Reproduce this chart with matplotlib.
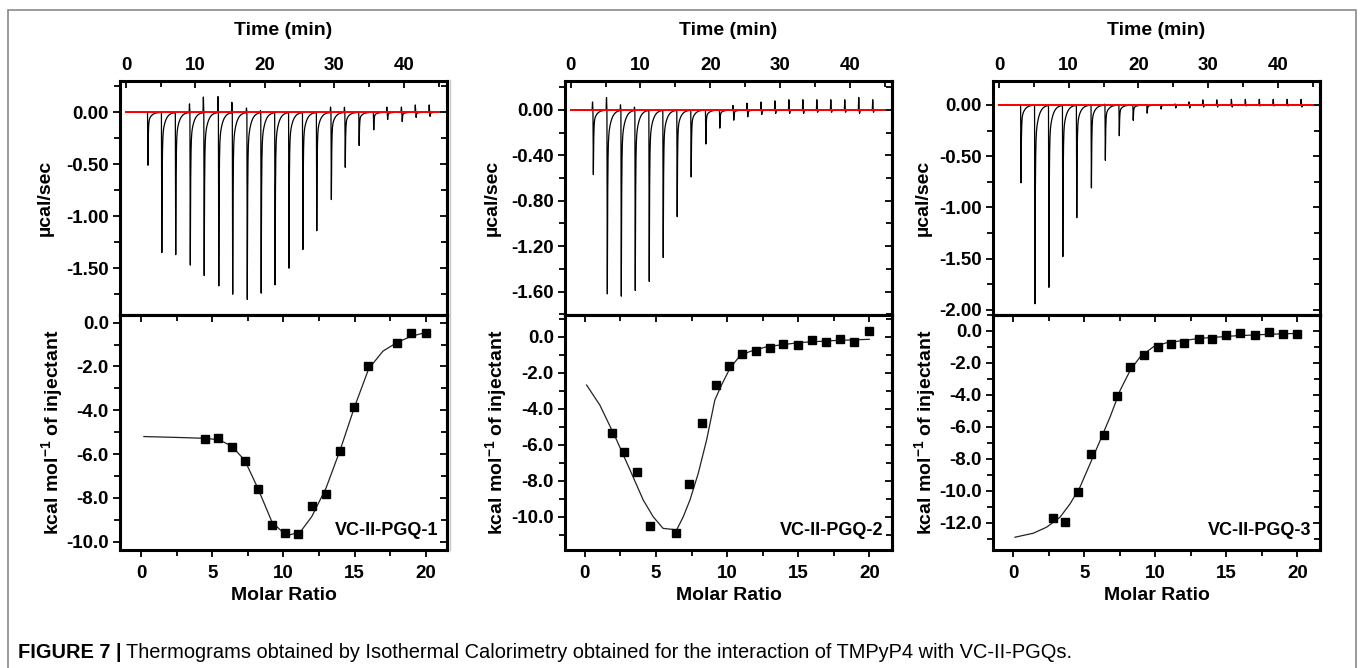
import numpy as np
import matplotlib
matplotlib.use('Agg')
import matplotlib.pyplot as plt
from matplotlib.ticker import MultipleLocator, FormatStrFormatter
from matplotlib.patches import Rectangle
from matplotlib.lines import Line2D

plt.rcParams['font.family'] = ['Liberation Sans', 'DejaVu Sans']
plt.rcParams['font.weight'] = 'bold'
plt.rcParams['axes.unicode_minus'] = False
plt.rcParams['mathtext.fontset'] = 'custom'
plt.rcParams['mathtext.bf'] = 'Liberation Sans:bold'
plt.rcParams['mathtext.rm'] = 'Liberation Sans:bold'
plt.rcParams['mathtext.default'] = 'bf'

# ---------------- data ----------------
# raw thermograms: injection time (min), peak minimum and small positive overshoot (ucal/sec)
inj_t1 = [3.1, 5.1, 7.1, 9.2, 11.2, 13.3, 15.3, 17.4, 19.4, 21.4, 23.4, 25.4, 27.4,
          29.5, 31.5, 33.5, 35.6, 37.6, 39.7, 41.7, 43.7]
peak1 = [-0.51, -1.35, -1.37, -1.47, -1.57, -1.67, -1.75, -1.80, -1.74, -1.66, -1.50,
         -1.32, -1.14, -0.84, -0.53, -0.32, -0.17, -0.07, -0.09, -0.05, -0.04]
over1 = [0.0, 0.0, 0.0, 0.08, 0.15, 0.15, 0.10, 0.04, 0.02, 0.01, 0.0, 0.0, 0.0,
         0.05, 0.05, 0.0, 0.0, 0.05, 0.05, 0.07, 0.07]

inj_t2 = [3.2, 5.2, 7.2, 9.2, 11.2, 13.2, 15.2, 17.2, 19.3, 21.3, 23.3, 25.3, 27.3,
          29.3, 31.3, 33.3, 35.3, 37.3, 39.3, 41.3, 43.3]
peak2 = [-0.57, -1.62, -1.64, -1.59, -1.51, -1.30, -0.94, -0.59, -0.30, -0.16, -0.09,
         -0.06, -0.04, -0.03, -0.03, -0.03, -0.02, -0.02, -0.02, -0.03, -0.02]
over2 = [0.07, 0.11, 0.05, 0.03, 0.0, 0.0, 0.0, 0.0, 0.0, 0.0, 0.04, 0.06, 0.07,
         0.08, 0.09, 0.09, 0.09, 0.09, 0.09, 0.11, 0.09]

inj_t3 = [3.1, 5.1, 7.1, 9.1, 11.1, 13.2, 15.2, 17.2, 19.2, 21.2, 23.2, 25.3, 27.3,
          29.3, 31.3, 33.4, 35.4, 37.4, 39.4, 41.4, 43.4]
peak3 = [-0.76, -1.94, -1.78, -1.48, -1.10, -0.81, -0.54, -0.30, -0.15, -0.08, -0.04,
         -0.03, -0.03, -0.02, -0.02, -0.02, -0.01, -0.01, -0.01, -0.01, -0.02]
over3 = [0.0, 0.0, 0.0, 0.0, 0.0, 0.0, 0.01, 0.0, 0.0, 0.0, 0.0, 0.01, 0.03,
         0.05, 0.05, 0.055, 0.055, 0.055, 0.055, 0.055, 0.055]

# integrated heats (kcal/mol of injectant) vs molar ratio
ratio1 = [4.5, 5.43, 6.37, 7.3, 8.2, 9.18, 10.12, 11.05, 12.04, 13.0, 13.98, 14.96,
          15.97, 17.96, 19.0, 20.0]
heat1 = [-5.33, -5.25, -5.68, -6.30, -7.58, -9.24, -9.59, -9.65, -8.39, -7.84, -5.86,
         -3.85, -1.98, -0.91, -0.49, -0.46]
fit_x1 = [0.2, 2.5, 4.5, 5.5, 6.4, 7.3, 8.2, 9.2, 10.0, 10.5, 11.2, 12.0, 13.0, 14.0,
          15.0, 16.0, 17.0, 18.0, 19.0, 20.0]
fit_y1 = [-5.2, -5.24, -5.28, -5.35, -5.65, -6.3, -7.55, -9.1, -9.6, -9.68, -9.55,
          -8.85, -7.55, -5.8, -3.85, -2.1, -1.3, -0.9, -0.62, -0.45]

ratio2 = [1.88, 2.74, 3.68, 4.57, 6.4, 7.32, 8.25, 9.19, 10.13, 11.07, 12.03, 13.01,
          13.95, 14.96, 15.99, 16.95, 17.94, 18.95, 20.0]
heat2 = [-5.37, -6.39, -7.54, -10.5, -10.89, -8.17, -4.80, -2.70, -1.63, -0.96, -0.78,
         -0.61, -0.43, -0.48, -0.19, -0.28, -0.13, -0.31, 0.33]
fit_x2 = [0.12, 1.05, 2.23, 3.17, 4.1, 4.8, 5.5, 6.1, 6.45, 6.92, 7.39, 7.97, 8.56,
          9.14, 9.61, 10.2, 10.9, 11.6, 12.8, 15.1, 17.5, 20.0]
fit_y2 = [-2.69, -3.8, -5.74, -7.4, -9.07, -10.0, -10.65, -10.7, -10.74, -10.0, -9.07,
          -7.6, -5.74, -3.52, -2.69, -1.76, -1.07, -0.83, -0.56, -0.33, -0.22, -0.15]

ratio3 = [2.78, 3.65, 4.54, 5.48, 6.4, 7.29, 8.24, 9.18, 10.16, 11.1, 12.05, 13.06,
          14.0, 14.99, 16.0, 16.99, 18.0, 19.01, 20.0]
heat3 = [-11.69, -11.92, -10.08, -7.67, -6.48, -4.08, -2.28, -1.51, -0.98, -0.82, -0.73,
         -0.52, -0.50, -0.25, -0.10, -0.25, -0.06, -0.21, -0.21]
fit_x3 = [0.12, 1.41, 2.35, 3.29, 4.0, 4.7, 5.41, 6.12, 6.82, 7.53, 8.24, 8.94, 9.88,
          10.82, 13.18, 15.5, 17.9, 20.0]
fit_y3 = [-12.9, -12.65, -12.27, -11.65, -10.81, -9.76, -8.3, -6.84, -5.37, -3.7, -2.45,
          -1.61, -0.98, -0.73, -0.46, -0.31, -0.21, -0.15]

names = ['VC-II-PGQ-1', 'VC-II-PGQ-2', 'VC-II-PGQ-3']


def make_trace(times, peaks, overs):
    # sharp exothermic spike per injection, fast return then slow tail
    t = np.arange(0, 45.001, 0.004)
    y = np.zeros_like(t)
    for t0, d, o in zip(times, peaks, overs):
        s = t - t0
        drop = (s >= 0) & (s < 0.06)
        y[drop] += d * s[drop] / 0.06
        rec = (s >= 0.06) & (s < 2.0)
        sr = s[rec] - 0.06
        y[rec] += d * (0.8 * np.exp(-sr / 0.05) + 0.2 * np.exp(-sr / 0.45))
        up = (s >= -0.12) & (s < 0)
        y[up] += o * (1 - np.abs(s[up] + 0.06) / 0.06)
    return t, y


fig = plt.figure(figsize=(13.6, 6.68), dpi=100)

lefts = [120, 565, 993]
W = 327
top_ylims = [(-1.95, 0.30), (-1.806, 0.255), (-2.05, 0.234)]
top_major = [0.5, 0.4, 0.5]
top_xlims = [(-0.86, 46.2), (-0.8, 46.0), (-0.86, 46.05)]
bot_ylims = [(-10.38, 0.35), (-11.85, 1.2), (-13.7, 1.0)]
bot_xlims = [(-1.48, 21.5), (-1.4, 21.6), (-1.43, 21.6)]
traces = [(inj_t1, peak1, over1), (inj_t2, peak2, over2), (inj_t3, peak3, over3)]
points = [(ratio1, heat1), (ratio2, heat2), (ratio3, heat3)]
fits = [(fit_x1, fit_y1), (fit_x2, fit_y2), (fit_x3, fit_y3)]
ylab_top = [45, 492, 923]
ylab_bot = [52, 496, 925]

SPW = 2.2
FS = 13.5

for i in range(3):
    l = lefts[i] / 1360
    w = W / 1360
    ax_t = fig.add_axes([l, (668 - 315) / 668, w, 234 / 668])
    ax_b = fig.add_axes([l, (668 - 550) / 668, w, 235 / 668])

    # ---- thermogram ----
    t, y = make_trace(*traces[i])
    ax_t.plot(t, y, color='black', lw=0.9)
    ax_t.plot([0, 45], [0, 0], color='red', lw=1.4)
    ax_t.set_xlim(*top_xlims[i])
    ax_t.set_ylim(*top_ylims[i])
    ax_t.xaxis.tick_top()
    ax_t.xaxis.set_major_locator(MultipleLocator(10))
    ax_t.xaxis.set_minor_locator(MultipleLocator(5))
    ax_t.tick_params(axis='x', which='both', direction='in', top=True, bottom=False,
                     labeltop=True, labelbottom=False, labelsize=FS, pad=5, width=1.3)
    ax_t.tick_params(axis='x', which='major', length=5)
    ax_t.tick_params(axis='x', which='minor', length=4)
    ax_t.yaxis.set_major_locator(MultipleLocator(top_major[i]))
    ax_t.yaxis.set_minor_locator(MultipleLocator(top_major[i] / 2))
    ax_t.yaxis.set_major_formatter(FormatStrFormatter('%.2f'))
    ax_t.tick_params(axis='y', which='both', direction='out', left=True, right=False,
                     labelsize=FS, pad=3, width=1.3)
    ax_t.tick_params(axis='y', which='major', length=5)
    ax_t.tick_params(axis='y', which='minor', length=4)
    sec = ax_t.secondary_yaxis('right')
    sec.yaxis.set_major_locator(MultipleLocator(top_major[i]))
    sec.yaxis.set_minor_locator(MultipleLocator(top_major[i] / 2))
    sec.tick_params(which='both', direction='in', labelright=False, width=1.3)
    sec.tick_params(which='major', length=5)
    sec.tick_params(which='minor', length=4)
    sec.spines['right'].set_linewidth(SPW)
    ax_t.set_xlabel('Time (min)', fontsize=14, fontweight='bold', va='center')
    ax_t.xaxis.set_label_position('top')
    ax_t.xaxis.set_label_coords(0.5, (315 - 35) / 234)
    ax_t.set_ylabel('µcal/sec', fontsize=14, fontweight='bold', va='center')
    ax_t.yaxis.set_label_coords((ylab_top[i] - lefts[i]) / W, 0.5)
    for sp in ax_t.spines.values():
        sp.set_linewidth(SPW)

    # ---- integrated heats ----
    ax_b.plot(*fits[i], color='#222222', lw=0.9)
    ax_b.plot(*points[i], 's', color='black', ms=5.2, mec='black')
    ax_b.set_xlim(*bot_xlims[i])
    ax_b.set_ylim(*bot_ylims[i])
    ax_b.xaxis.set_major_locator(MultipleLocator(5))
    ax_b.xaxis.set_minor_locator(MultipleLocator(2.5))
    ax_b.yaxis.set_major_locator(MultipleLocator(2))
    ax_b.yaxis.set_minor_locator(MultipleLocator(1))
    ax_b.yaxis.set_major_formatter(FormatStrFormatter('%.1f'))
    ax_b.tick_params(which='both', direction='out', top=False, right=False,
                     labelsize=FS, width=1.3)
    ax_b.tick_params(which='major', length=5)
    ax_b.tick_params(which='minor', length=4)
    ax_b.tick_params(axis='y', pad=3)
    ax_b.tick_params(axis='x', pad=6)
    sx = ax_b.secondary_xaxis('top')
    sx.xaxis.set_major_locator(MultipleLocator(5))
    sx.xaxis.set_minor_locator(MultipleLocator(2.5))
    sx.tick_params(which='both', direction='in', labeltop=False, width=1.3)
    sx.tick_params(which='major', length=5)
    sx.tick_params(which='minor', length=4)
    sx.spines['top'].set_linewidth(SPW)
    sy = ax_b.secondary_yaxis('right')
    sy.yaxis.set_major_locator(MultipleLocator(2))
    sy.yaxis.set_minor_locator(MultipleLocator(1))
    sy.tick_params(which='both', direction='in', labelright=False, width=1.3)
    sy.tick_params(which='major', length=5)
    sy.tick_params(which='minor', length=4)
    sy.spines['right'].set_linewidth(SPW)
    ax_b.set_xlabel('Molar Ratio', fontsize=14, fontweight='bold', va='center')
    ax_b.xaxis.set_label_coords(0.5, (550 - 595) / 235)
    ax_b.set_ylabel(r'kcal mol$^{-1}$ of injectant', fontsize=14, fontweight='bold', va='center')
    ax_b.yaxis.set_label_coords((ylab_bot[i] - lefts[i]) / W, 0.5)
    ax_b.text(0.975, 0.045, names[i], transform=ax_b.transAxes, ha='right', va='bottom',
              fontsize=13, fontweight='bold')
    for sp in ax_b.spines.values():
        sp.set_linewidth(SPW)

# outer frame, faint panel edge and caption
fig.patches.append(Rectangle((8 / 1360, -0.01), 1348 / 1360, (658 / 668) + 0.01,
                             transform=fig.transFigure, fill=False, ec='#8a8a8a', lw=1.2))
fig.lines.append(Line2D([450 / 1360, 450 / 1360], [1 - 80 / 668, 1 - 550 / 668],
                        transform=fig.transFigure, color='#c8c8c8', lw=1.0))
cap1 = fig.text(18 / 1360, 1 - 652 / 668, 'FIGURE 7 |', fontsize=14.4, fontweight='bold',
                va='center', ha='left')
fig.canvas.draw()
bb = cap1.get_window_extent()
fig.text(bb.x1 / 1360 + 4 / 1360, 1 - 652 / 668,
         'Thermograms obtained by Isothermal Calorimetry obtained for the interaction of TMPyP4 with VC-II-PGQs.',
         fontsize=14.4, fontweight='normal', va='center', ha='left')

fig.savefig('out.png', dpi=100)
